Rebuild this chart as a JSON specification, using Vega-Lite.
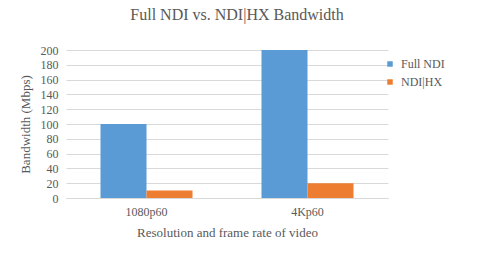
{
  "$schema": "https://vega.github.io/schema/vega-lite/v6.json",
  "autosize": "none",
  "width": 322,
  "height": 148,
  "padding": {"left": 66, "top": 50, "right": 89, "bottom": 63},
  "background": "white",
  "title": {
    "text": "Full NDI vs. NDI|HX Bandwidth",
    "font": "Liberation Serif",
    "fontSize": 16,
    "fontWeight": "normal",
    "color": "#595959",
    "anchor": "middle",
    "frame": "group",
    "offset": 21,
    "dx": 10
  },
  "data": {
    "values": [
      {"resolution": "1080p60", "series": "Full NDI", "mbps": 100},
      {"resolution": "1080p60", "series": "NDI|HX", "mbps": 10},
      {"resolution": "4Kp60", "series": "Full NDI", "mbps": 200},
      {"resolution": "4Kp60", "series": "NDI|HX", "mbps": 20}
    ]
  },
  "mark": {"type": "bar"},
  "encoding": {
    "x": {
      "field": "resolution",
      "type": "nominal",
      "sort": ["1080p60", "4Kp60"],
      "scale": {"paddingInner": 0, "paddingOuter": 0},
      "axis": {
        "title": "Resolution and frame rate of video",
        "labelAngle": 0,
        "domainColor": "#D9D9D9",
        "ticks": false,
        "labelPadding": 8,
        "titlePadding": 9
      }
    },
    "xOffset": {
      "field": "series",
      "type": "nominal",
      "scale": {"paddingInner": 0, "paddingOuter": 0.75}
    },
    "y": {
      "field": "mbps",
      "type": "quantitative",
      "scale": {"domain": [0, 200]},
      "axis": {
        "title": "Bandwidth (Mbps)",
        "values": [0, 20, 40, 60, 80, 100, 120, 140, 160, 180, 200],
        "domain": false,
        "ticks": false,
        "labelPadding": 8,
        "titlePadding": 8,
        "gridColor": "#D9D9D9"
      }
    },
    "color": {
      "field": "series",
      "type": "nominal",
      "scale": {"domain": ["Full NDI", "NDI|HX"], "range": ["#5B9BD5", "#ED7D31"]},
      "legend": {
        "title": null,
        "orient": "none",
        "legendX": 318,
        "legendY": 8,
        "symbolType": "square",
        "symbolSize": 30,
        "symbolStrokeWidth": 0,
        "labelFontSize": 12,
        "rowPadding": 6,
        "labelOffset": 5
      }
    }
  },
  "config": {
    "view": {"stroke": null},
    "font": "Liberation Serif",
    "axis": {
      "labelFont": "Liberation Serif",
      "titleFont": "Liberation Serif",
      "labelFontSize": 12,
      "titleFontSize": 13,
      "titleFontWeight": "normal",
      "labelColor": "#595959",
      "titleColor": "#595959",
      "grid": true
    },
    "axisX": {"grid": false},
    "legend": {
      "labelFont": "Liberation Serif",
      "labelColor": "#595959"
    }
  }
}
